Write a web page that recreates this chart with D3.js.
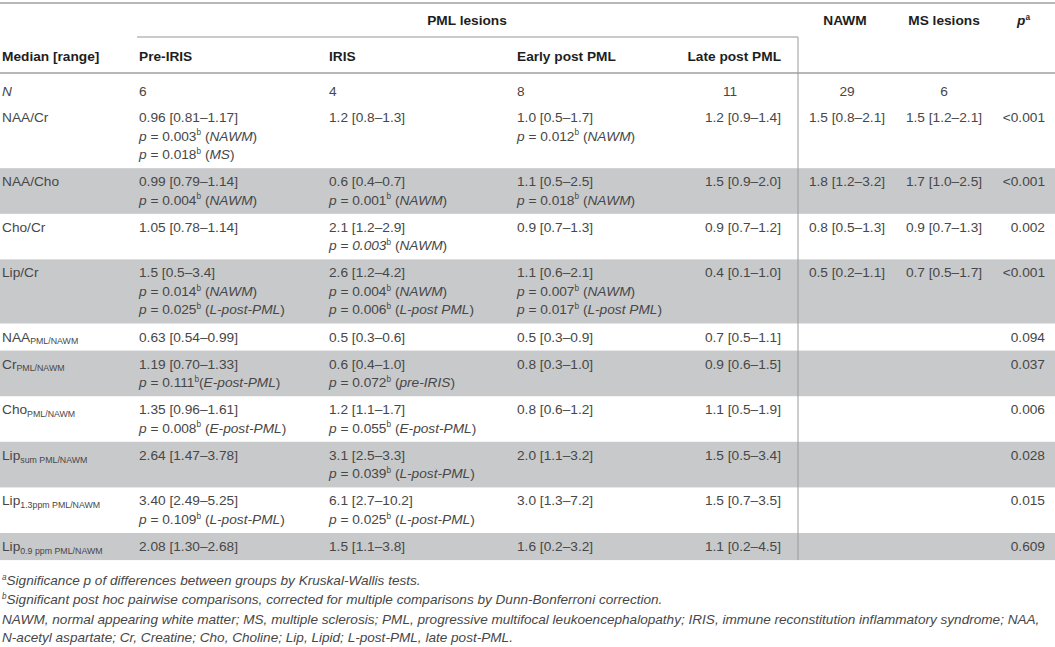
<!DOCTYPE html>
<html>
<head>
<meta charset="utf-8">
<script src="https://cdn.jsdelivr.net/npm/d3@7"></script>
<style>
  html, body { margin: 0; padding: 0; background: #fff; }
  svg { display: block; }
</style>
</head>
<body>
<div id="chart"></div>
<script>
const groupHeaders = ["PML lesions", "NAWM", "MS lesions", "p"];
const columnHeaders = ["Median [range]", "Pre-IRIS", "IRIS", "Early post PML", "Late post PML"];

// [main, subscript]
const rowLabels = [
    ["N", ""], ["NAA/Cr", ""], ["NAA/Cho", ""], ["Cho/Cr", ""], ["Lip/Cr", ""],
    ["NAA", "PML/NAWM"], ["Cr", "PML/NAWM"], ["Cho", "PML/NAWM"],
    ["Lip", "sum PML/NAWM"], ["Lip", "1.3ppm PML/NAWM"], ["Lip", "0.9 ppm PML/NAWM"]
];

const preIris = ["6", "0.96 [0.81–1.17]", "0.99 [0.79–1.14]", "1.05 [0.78–1.14]", "1.5 [0.5–3.4]",
    "0.63 [0.54–0.99]", "1.19 [0.70–1.33]", "1.35 [0.96–1.61]", "2.64 [1.47–3.78]", "3.40 [2.49–5.25]", "2.08 [1.30–2.68]"];
const iris = ["4", "1.2 [0.8–1.3]", "0.6 [0.4–0.7]", "2.1 [1.2–2.9]", "2.6 [1.2–4.2]",
    "0.5 [0.3–0.6]", "0.6 [0.4–1.0]", "1.2 [1.1–1.7]", "3.1 [2.5–3.3]", "6.1 [2.7–10.2]", "1.5 [1.1–3.8]"];
const earlyPost = ["8", "1.0 [0.5–1.7]", "1.1 [0.5–2.5]", "0.9 [0.7–1.3]", "1.1 [0.6–2.1]",
    "0.5 [0.3–0.9]", "0.8 [0.3–1.0]", "0.8 [0.6–1.2]", "2.0 [1.1–3.2]", "3.0 [1.3–7.2]", "1.6 [0.2–3.2]"];
const latePost = ["11", "1.2 [0.9–1.4]", "1.5 [0.9–2.0]", "0.9 [0.7–1.2]", "0.4 [0.1–1.0]",
    "0.7 [0.5–1.1]", "0.9 [0.6–1.5]", "1.1 [0.5–1.9]", "1.5 [0.5–3.4]", "1.5 [0.7–3.5]", "1.1 [0.2–4.5]"];
const nawm = ["29", "1.5 [0.8–2.1]", "1.8 [1.2–3.2]", "0.8 [0.5–1.3]", "0.5 [0.2–1.1]", "", "", "", "", "", ""];
const msLesions = ["6", "1.5 [1.2–2.1]", "1.7 [1.0–2.5]", "0.9 [0.7–1.3]", "0.7 [0.5–1.7]", "", "", "", "", "", ""];
const pKruskal = ["", "<0.001", "<0.001", "0.002", "<0.001", "0.094", "0.037", "0.006", "0.028", "0.015", "0.609"];

// post hoc comparisons: [p, versus group, sep before the bracket, p printed in italics]
const preIrisPosthoc = [[], [["0.003", "NAWM"], ["0.018", "MS"]], [["0.004", "NAWM"]], [],
    [["0.014", "NAWM"], ["0.025", "L-post-PML"]], [], [["0.111", "E-post-PML", ""]], [["0.008", "E-post-PML"]],
    [], [["0.109", "L-post-PML"]], []];
const irisPosthoc = [[], [], [["0.001", "NAWM"]], [["0.003", "NAWM", " ", true]],
    [["0.004", "NAWM"], ["0.006", "L-post PML"]], [], [["0.072", "pre-IRIS"]], [["0.055", "E-post-PML"]],
    [["0.039", "L-post-PML"]], [["0.025", "L-post-PML"]], []];
const earlyPosthoc = [[], [["0.012", "NAWM"]], [["0.018", "NAWM"]], [],
    [["0.007", "NAWM"], ["0.017", "L-post PML"]], [], [], [], [], [], []];

const footnotes = [
    ["a", "Significance p of differences between groups by Kruskal-Wallis tests."],
    ["b", "Significant post hoc pairwise comparisons, corrected for multiple comparisons by Dunn-Bonferroni correction."],
    ["", "NAWM, normal appearing white matter; MS, multiple sclerosis; PML, progressive multifocal leukoencephalopathy; IRIS, immune reconstitution inflammatory syndrome; NAA,"],
    ["", "N-acetyl aspartate; Cr, Creatine; Cho, Choline; Lip, Lipid; L-post-PML, late post-PML."]
];

// --- layout ---
const W = 1055, H = 647;
const FS = 13.7;
const txt = "#474747", head = "#1e1e1e", rule = "#b8b8b8", band = "#c8c9cb";
const font = "'Liberation Sans', Arial, Helvetica, sans-serif";

const svg = d3.select("#chart").append("svg")
    .attr("width", W).attr("height", H)
    .attr("font-family", font).attr("font-size", FS);

const colKeys = ["label", "pre", "iris", "early", "late", "nawm", "ms", "p"];
const colX = d3.scaleOrdinal().domain(colKeys).range([2, 139, 329, 517, 781, 847, 944, 1045]);
const colAnchor = d3.scaleOrdinal().domain(colKeys)
    .range(["start", "start", "start", "start", "end", "middle", "middle", "end"]);
const splitX = 798;

// lines per row
const nLines = rowLabels.map((d, i) =>
    1 + Math.max(preIrisPosthoc[i].length, irisPosthoc[i].length, earlyPosthoc[i].length));

// vertical positions: pitch per line + padding per row
const pitch = 18.5, rowPad = 8.6, bodyTop = 73, firstExtra = 4;
const lineY = d3.scaleLinear().domain([0, 1]).range([0, pitch]);
const rowTops = [];
let acc = bodyTop;
nLines.forEach((n, i) => {
    rowTops.push(acc);
    acc += lineY(n) + rowPad + (i === 0 ? firstExtra : 0);
});
const bodyBottom = acc;
const rowH = (i) => (i + 1 < rowTops.length ? rowTops[i + 1] : bodyBottom) - rowTops[i];
const baseY = (i, k) => rowTops[i] + 18 + (i === 0 ? 5 : 0) + lineY(k);

// grey bands
svg.append("g").selectAll("rect")
    .data(rowLabels.map((d, i) => i).filter(i => i % 2 === 0 && i > 0))
    .join("rect")
    .attr("x", 0).attr("width", W)
    .attr("y", i => rowTops[i]).attr("height", i => rowH(i))
    .attr("fill", band);

// rich text helper: parts = [{t, i, sup, sub, fs}]
function rich(sel, parts, fs) {
    let shift = 0;
    parts.forEach(p => {
        const ts = sel.append("tspan").text(p.t);
        let target = 0;
        if (p.sup) target = -fs * 0.38;
        if (p.sub) target = fs * 0.2;
        if (target !== shift) { ts.attr("dy", target - shift); shift = target; }
        if (p.i) ts.attr("font-style", "italic");
        if (p.sup || p.sub) ts.attr("font-size", p.fs || fs * 0.6);
    });
}

// rules
const g = svg.append("g").attr("stroke", rule).attr("fill", "none");
g.append("line").attr("x1", 0).attr("x2", W).attr("y1", 3).attr("y2", 3).attr("stroke-width", 2);
g.append("line").attr("x1", 137).attr("x2", splitX).attr("y1", 37).attr("y2", 37).attr("stroke-width", 1.5);
g.append("line").attr("x1", 0).attr("x2", W).attr("y1", bodyTop).attr("y2", bodyTop).attr("stroke-width", 2);
g.append("line").attr("x1", splitX).attr("x2", splitX).attr("y1", 37).attr("y2", bodyBottom)
    .attr("stroke", "#9a9a9a").attr("stroke-width", 1);

// headers
const hd = svg.append("g").attr("fill", head).attr("font-weight", "bold");
const groupPos = [[467, "middle"], [845, "middle"], [944, "middle"], [1017, "start"]];
groupHeaders.forEach((h, i) => {
    const t = hd.append("text").attr("x", groupPos[i][0]).attr("y", 25).attr("text-anchor", groupPos[i][1]);
    if (h === "p") rich(t, [{ t: "p", i: 1 }, { t: "a", sup: 1 }], FS);
    else t.text(h);
});
columnHeaders.forEach((h, i) => {
    hd.append("text").attr("x", colX(colKeys[i])).attr("y", 61)
        .attr("text-anchor", colAnchor(colKeys[i])).text(h);
});

// body
const body = svg.append("g").attr("fill", txt);
rowLabels.forEach((lab, i) => {
    const t = body.append("text").attr("x", colX("label")).attr("y", baseY(i, 0));
    if (i === 0) t.attr("font-style", "italic").text(lab[0]);
    else rich(t, [{ t: lab[0] }, { t: lab[1], sub: 1, fs: 8.8 }], FS);
});

const valueCols = [
    ["pre", preIris, preIrisPosthoc], ["iris", iris, irisPosthoc], ["early", earlyPost, earlyPosthoc],
    ["late", latePost, null], ["nawm", nawm, null], ["ms", msLesions, null], ["p", pKruskal, null]
];
valueCols.forEach(([key, vals, post]) => {
    vals.forEach((v, i) => {
        if (!v) return;
        let x = colX(key), anchor = colAnchor(key);
        if (key === "late" && i === 0) { x = 730; anchor = "middle"; }
        body.append("text").attr("x", x).attr("y", baseY(i, 0)).attr("text-anchor", anchor).text(v);
        if (!post) return;
        post[i].forEach((c, k) => {
            const sep = c[2] === undefined ? " " : c[2];
            const t = body.append("text").attr("x", x).attr("y", baseY(i, k + 1));
            rich(t, [{ t: "p", i: 1 }, { t: " = " }, { t: c[0], i: c[3] ? 1 : 0 }, { t: "b", sup: 1 },
                { t: sep + "(" }, { t: c[1], i: 1 }, { t: ")" }], FS);
        });
    });
});

// footnotes
const fn = svg.append("g").attr("fill", txt).attr("font-style", "italic");
let fnSize = 12;
const probe = fn.append("text").attr("font-size", fnSize).text(footnotes[2][1]);
fnSize = fnSize * 1038 / probe.node().getComputedTextLength();
probe.remove();
const fnY = [585, 604, 624, 642];
footnotes.forEach((f, i) => {
    const t = fn.append("text").attr("x", 2).attr("y", fnY[i]).attr("font-size", fnSize);
    if (f[0]) rich(t, [{ t: f[0], sup: 1, fs: fnSize * 0.6 }, { t: f[1] }], fnSize);
    else t.text(f[1]);
});
</script>
</body>
</html>
